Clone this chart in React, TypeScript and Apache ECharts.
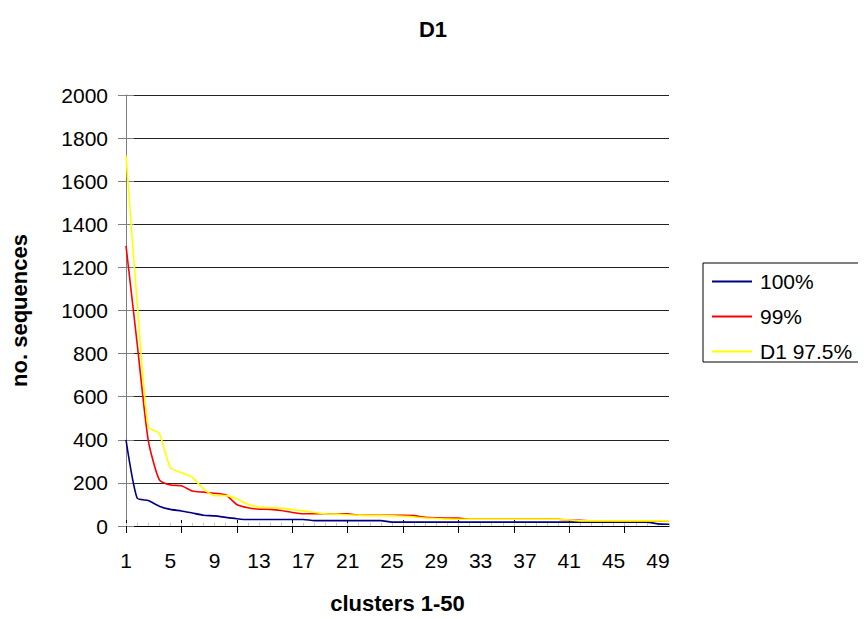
import React, { useEffect, useRef } from "react";
import * as echarts from "echarts";

const categories: string[] = Array.from({ length: 50 }, (_, i) => String(i + 1));

const s100: number[] = [
  400, 130, 118, 92, 77, 70, 60, 50, 47, 40,
  34, 30, 30, 30, 30, 30, 30, 25, 25, 25,
  25, 25, 25, 25, 18, 18, 18, 18, 18, 18,
  18, 18, 18, 18, 18, 18, 18, 18, 18, 18,
  18, 18, 18, 18, 18, 18, 18, 18, 10, 8,
];

const s99: number[] = [
  1300, 850, 400, 215, 190, 187, 162, 157, 152, 145,
  100, 85, 78, 77, 72, 63, 57, 57, 57, 57,
  57, 50, 50, 50, 50, 50, 48, 40, 38, 37,
  37, 31, 31, 31, 31, 31, 31, 31, 31, 31,
  27, 26, 24, 24, 24, 24, 24, 24, 24, 24,
];

const s975: number[] = [
  1720, 1040, 460, 430, 271, 248, 225, 172, 141, 141,
  126, 100, 88, 85, 83, 76, 70, 63, 57, 55,
  52, 50, 48, 48, 47, 45, 42, 37, 35, 32,
  31, 31, 31, 31, 31, 31, 31, 31, 31, 31,
  28, 24, 24, 24, 24, 24, 24, 24, 24, 24,
];

const seriesNames: string[] = ["100%", "99%", "D1 97.5%"];
const seriesColors: string[] = ["#000080", "#FF0000", "#FFFF00"];

const FONT = "Liberation Sans, Arial, sans-serif";

export default function App() {
  const ref = useRef<HTMLDivElement>(null);
  useEffect(() => {
    if (!ref.current) return;
    const chart = echarts.init(ref.current, null, { renderer: "svg" });
    const values = [s100, s99, s975];
    chart.setOption({
      animation: false,
      backgroundColor: "#ffffff",
      title: {
        text: "D1",
        left: "center",
        top: 13,
        textStyle: { fontFamily: FONT, fontSize: 22, fontWeight: "bold", color: "#000" },
      },
      legend: {
        orient: "vertical",
        left: 703,
        top: 263,
        padding: [8, 40, 0, 9],
        itemGap: 14,
        itemWidth: 40,
        itemHeight: 2,
        icon: "rect",
        borderColor: "#000",
        borderWidth: 1,
        data: seriesNames,
        textStyle: { fontFamily: FONT, fontSize: 21, color: "#000", padding: [0, 0, 0, 3] },
      },
      grid: { left: 125, right: 197, top: 95, bottom: 87, containLabel: false },
      xAxis: [
        {
          type: "category",
          data: categories,
          boundaryGap: false,
          name: "clusters 1-50",
          nameLocation: "middle",
          nameGap: 66,
          nameTextStyle: { fontFamily: FONT, fontSize: 22, fontWeight: "bold", color: "#000" },
          axisLine: { lineStyle: { color: "#000", width: 1 } },
          axisTick: { show: true, interval: 4, length: 7, lineStyle: { color: "#000" } },
          axisLabel: { interval: 3, margin: 24, fontFamily: FONT, fontSize: 21, color: "#000" },
          splitLine: { show: false },
        },
        {
          type: "category",
          data: categories,
          boundaryGap: false,
          position: "bottom",
          axisLine: { show: false },
          axisTick: { show: true, inside: true, interval: 4, length: 6, lineStyle: { color: "#000" } },
          axisLabel: { show: false },
          splitLine: { show: false },
        },
        {
          type: "category",
          data: categories,
          boundaryGap: false,
          position: "bottom",
          axisLine: { show: false },
          axisTick: { show: true, inside: true, interval: 0, length: 3, lineStyle: { color: "#c8c8c8" } },
          axisLabel: { show: false },
          splitLine: { show: false },
        },
      ],
      yAxis: [
        {
          type: "value",
          min: 0,
          max: 2000,
          interval: 200,
          name: "no. sequences",
          nameLocation: "middle",
          nameGap: 96,
          nameTextStyle: { fontFamily: FONT, fontSize: 22, fontWeight: "bold", color: "#000" },
          axisLine: { show: true, lineStyle: { color: "#808080", width: 1 } },
          axisTick: { show: true, length: 8, lineStyle: { color: "#808080" } },
          axisLabel: {
            margin: 18,
            fontFamily: FONT,
            fontSize: 21,
            color: "#000",
            formatter: (v: number) => String(v),
          },
          splitLine: { show: true, lineStyle: { color: "#222", width: 1 } },
        },
        {
          type: "value",
          min: 0,
          max: 2000,
          interval: 200,
          position: "left",
          axisLine: { show: false },
          axisTick: { show: true, inside: true, length: 8, lineStyle: { color: "#808080" } },
          axisLabel: { show: false },
          splitLine: { show: false },
        },
      ],
      series: seriesNames.map((name, i) => ({
        name,
        type: "line",
        data: values[i],
        xAxisIndex: 0,
        yAxisIndex: 0,
        showSymbol: false,
        symbol: "none",
        smooth: 0.2,
        lineStyle: { color: seriesColors[i], width: 1.6 },
        itemStyle: { color: seriesColors[i] },
      })),
    });
    return () => chart.dispose();
  }, []);
  return <div ref={ref} style={{ width: 866, height: 619, margin: -8 }} />;
}
